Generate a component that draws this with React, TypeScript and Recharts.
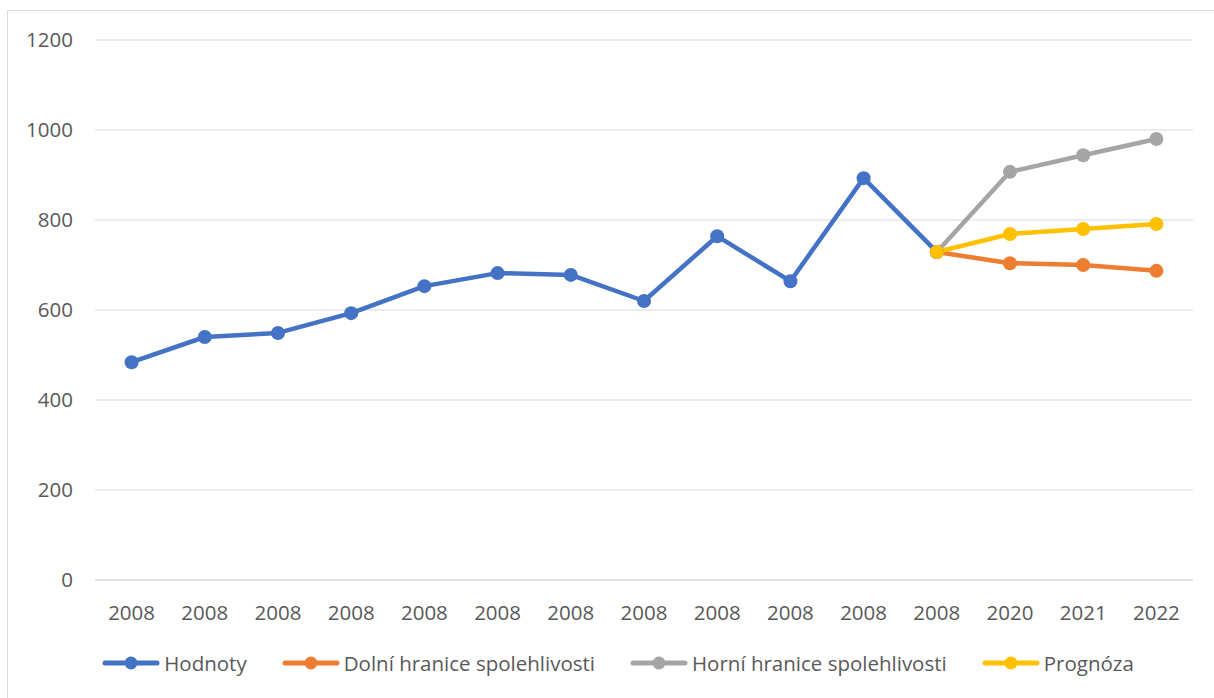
import React from 'react';
import { LineChart, Line, XAxis, YAxis, CartesianGrid, Legend } from 'recharts';

const categories = ['2008', '2008', '2008', '2008', '2008', '2008', '2008', '2008', '2008', '2008', '2008', '2008', '2020', '2021', '2022'];
const hodnoty = [484, 540, 549, 593, 653, 682, 678, 620, 764, 664, 893, 729, null, null, null];
const dolni = [null, null, null, null, null, null, null, null, null, null, null, 729, 704, 700, 687];
const horni = [null, null, null, null, null, null, null, null, null, null, null, 729, 907, 944, 980];
const prognoza = [null, null, null, null, null, null, null, null, null, null, null, 729, 769, 780, 791];
const yTicks = [0, 200, 400, 600, 800, 1000, 1200];

const series = [
  { key: 'hodnoty', name: 'Hodnoty', color: '#4472C4', values: hodnoty },
  { key: 'dolni', name: 'Dolní hranice spolehlivosti', color: '#ED7D31', values: dolni },
  { key: 'horni', name: 'Horní hranice spolehlivosti', color: '#A5A5A5', values: horni },
  { key: 'prognoza', name: 'Prognóza', color: '#FFC000', values: prognoza },
];

const data = categories.map((label, i) => {
  const row: Record<string, any> = { label };
  series.forEach((s) => {
    row[s.key] = s.values[i];
  });
  return row;
});

const FONT = '"Open Sans", "Liberation Sans", Arial, sans-serif';
const TEXT = '#595959';
const HALF_BAND = 1098 / categories.length / 2;

const renderLegend = () => (
  <div style={{ display: 'flex', justifyContent: 'center', alignItems: 'center', gap: 35, fontFamily: FONT, fontSize: 20.5, color: TEXT, height: 24, paddingLeft: 8 }}>
    {series.map((s) => (
      <div key={s.key} style={{ display: 'flex', alignItems: 'center' }}>
        <svg width={58} height={16} style={{ marginRight: 4 }}>
          <line x1={3} y1={8} x2={55} y2={8} stroke={s.color} strokeWidth={5} strokeLinecap="round" />
          <circle cx={29} cy={8} r={6.5} fill={s.color} />
        </svg>
        <span style={{ lineHeight: '24px' }}>{s.name}</span>
      </div>
    ))}
  </div>
);

export default function App() {
  return (
    <div style={{ position: 'absolute', left: 0, top: 0, width: 1214, height: 698, background: '#fff', overflow: 'hidden' }}>
      <div style={{ position: 'absolute', left: 7, top: 10, width: 1220, height: 720, border: '1px solid #D9D9D9', boxSizing: 'border-box' }} />
      <div style={{ position: 'absolute', left: 0, top: 0 }}>
        <LineChart width={1214} height={698} data={data} margin={{ top: 40, right: 21, bottom: 23, left: 35 }}>
          <CartesianGrid vertical={false} stroke="#D9D9D9" strokeWidth={1} />
          <XAxis
            dataKey="label"
            interval={0}
            height={71}
            padding={{ left: HALF_BAND, right: HALF_BAND }}
            tickLine={false}
            tickSize={0}
            tickMargin={25}
            axisLine={{ stroke: '#D9D9D9' }}
            tick={{ fill: TEXT, fontSize: 20.5, fontFamily: FONT }}
          />
          <YAxis
            domain={[0, 1200]}
            ticks={yTicks}
            width={60}
            axisLine={false}
            tickLine={false}
            tickSize={0}
            tickMargin={22}
            tick={{ fill: TEXT, fontSize: 20.5, fontFamily: FONT }}
          />
          <Legend verticalAlign="bottom" height={24} content={renderLegend} />
          {series.map((s) => (
            <Line
              key={s.key}
              type="linear"
              dataKey={s.key}
              name={s.name}
              stroke={s.color}
              strokeWidth={4.5}
              strokeLinejoin="round"
              dot={{ r: 7, fill: s.color, stroke: s.color, strokeWidth: 0 }}
              activeDot={false}
              isAnimationActive={false}
            />
          ))}
        </LineChart>
      </div>
    </div>
  );
}
